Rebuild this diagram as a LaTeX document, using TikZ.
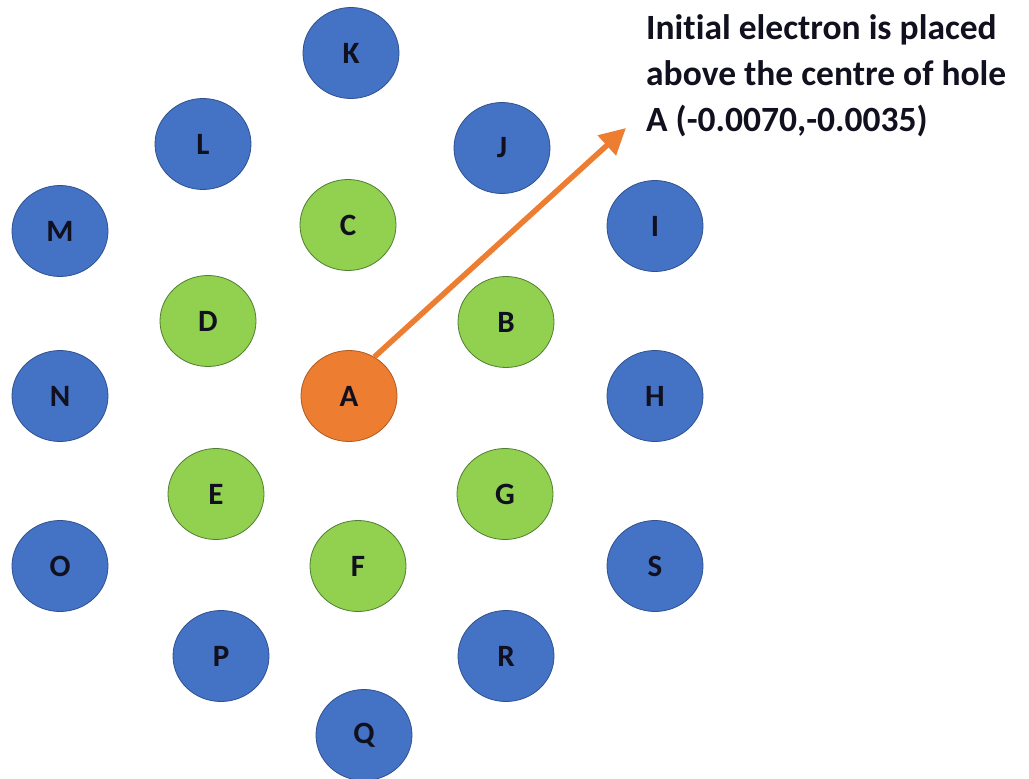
\documentclass[tikz,border=0pt]{standalone}
\usepackage{fontspec}
\setmainfont{Carlito}[Ligatures=NoCommon]
\usetikzlibrary{shapes.geometric,arrows.meta}
\definecolor{cblue}{HTML}{4472C4}
\definecolor{cblueedge}{HTML}{2F528F}
\definecolor{cgreen}{HTML}{92D050}
\definecolor{cgreenedge}{HTML}{507E32}
\definecolor{corange}{HTML}{ED7D31}
\definecolor{corangeedge}{HTML}{AE5A21}
\definecolor{ink}{HTML}{10101E}
\begin{document}
\begin{tikzpicture}[x=1pt,y=-1pt,
  hole/.style={ellipse,minimum width=96pt,minimum height=91pt,inner sep=0pt,line width=0.8pt,font=\fontsize{31}{34}\selectfont\bfseries,text=ink},
  outer/.style={hole,fill=cblue,draw=cblueedge},
  inner/.style={hole,fill=cgreen,draw=cgreenedge},
  centre/.style={hole,fill=corange,draw=corangeedge},
  pointer/.style={draw=corange,line width=5.5pt,-{Triangle[length=26pt,width=26pt]}},
  note/.style={anchor=base west,align=left,inner sep=0pt,font=\fontsize{35.5}{46}\selectfont\bfseries,text=ink}]
\useasboundingbox (0,0) rectangle (1029,779);
\node[outer] (K) at (351,53) {K};
\node[outer] (L) at (203,144) {L};
\node[outer] (J) at (502,148) {J};
\node[outer] (M) at (60,231) {M};
\node[inner] (C) at (348,225) {C};
\node[outer] (I) at (655,226) {I};
\node[inner] (D) at (208,321) {D};
\node[inner] (B) at (506,322) {B};
\node[outer] (N) at (60,396) {N};
\node[centre] (A) at (349,396) {A};
\node[outer] (H) at (655,396) {H};
\node[inner] (E) at (216,494) {E};
\node[inner] (G) at (505,494) {G};
\node[outer] (O) at (60,566) {O};
\node[inner] (F) at (358,566) {F};
\node[outer] (S) at (655,566) {S};
\node[outer] (P) at (221,656) {P};
\node[outer] (R) at (506,656) {R};
\node[outer] (Q) at (364,735) {Q};
\node[note] (T) at (646,131) {Initial electron is placed\\above the centre of hole\\A (-0.0070,-0.0035)};
\coordinate (tip) at (626,128);
\draw[pointer] (A.57) -- (tip);
\end{tikzpicture}
\end{document}
